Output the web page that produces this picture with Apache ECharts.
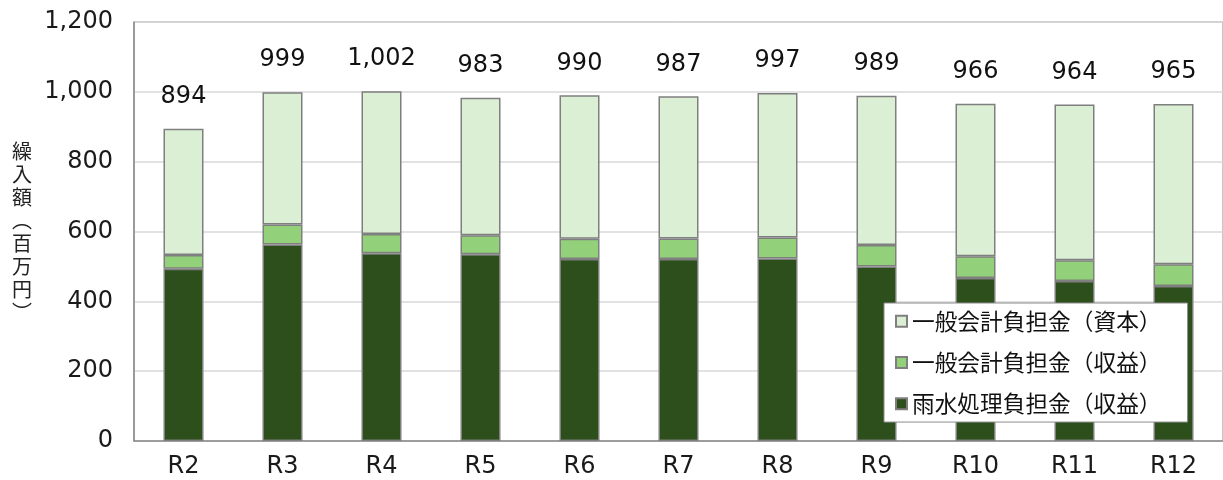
<!DOCTYPE html>
<html><head><meta charset="utf-8">
<script src="https://cdn.jsdelivr.net/npm/echarts@6/dist/echarts.min.js"></script>
<style>html,body{margin:0;padding:0;background:#fff}#c{width:1223px;height:480px}</style>
</head><body><div id="c"></div>
<script>
const categories = ['R2','R3','R4','R5','R6','R7','R8','R9','R10','R11','R12'];
const rainwater = [493,563,538,535,521,521,523,500,467,458,444];
const generalRevenue = [40,57,55,54,58,59,60,61,62,60,62];
const generalCapital = [361,379,409,394,411,407,414,428,437,446,459];
const totals = [894,999,1002,983,990,987,997,989,966,964,965];
const yTicks = [0,200,400,600,800,1000,1200];
const names = ['雨水処理負担金（収益）','一般会計負担金（収益）','一般会計負担金（資本）'];

const font = "'DejaVu Sans', sans-serif";
const jfont = "'Noto Sans CJK JP', sans-serif";
const border = {borderColor:'#7f7f7f', borderWidth:1.5};
const chart = echarts.init(document.getElementById('c'));
chart.setOption({
  animation:false,
  grid:{left:134, right:-11, top:22, bottom:39, show:true, borderColor:'#8c8c8c', borderWidth:1},
  legend:{
    orient:'vertical', left:884, top:303,
    data:[names[2],names[1],names[0]],
    backgroundColor:'#fff', borderColor:'#8c8c8c', borderWidth:1,
    padding:[7,26,7,11], itemGap:18.5, itemWidth:11, itemHeight:11,
    icon:'rect',
    textStyle:{fontSize:22.7, color:'#111', fontFamily:jfont}
  },
  xAxis:{type:'category', data:categories,
    axisLine:{lineStyle:{color:'#8c8c8c', width:1.5}}, axisTick:{show:false},
    axisLabel:{fontSize:24, color:'#1a1a1a', margin:14, fontFamily:font}},
  yAxis:{type:'value', min:0, max:1200, interval:200,
    name:'繰\n入\n額\n︵\n百\n万\n円\n︶', nameLocation:'middle', nameRotate:0, nameGap:102,
    nameTextStyle:{fontSize:20, color:'#222', lineHeight:23, fontFamily:jfont},
    axisLine:{show:true, lineStyle:{color:'#8c8c8c', width:1.5}}, axisTick:{show:false},
    splitLine:{lineStyle:{color:'#d9d9d9', width:1.5}},
    axisLabel:{fontSize:24, color:'#1a1a1a', margin:21, fontFamily:font,
      formatter:v => yTicks.includes(v) ? v.toLocaleString('en-US') : ''}},
  series:[
    {name:names[0], type:'bar', stack:'a', barWidth:40, data:rainwater,
     itemStyle:Object.assign({color:'#2d4f1c'}, border)},
    {name:names[1], type:'bar', stack:'a', barWidth:40, data:generalRevenue,
     itemStyle:Object.assign({color:'#92d07a'}, border)},
    {name:names[2], type:'bar', stack:'a', barWidth:40, data:generalCapital,
     itemStyle:Object.assign({color:'#daefd4'}, border),
     label:{show:true, position:'top', distance:20, fontSize:24, color:'#111', fontFamily:font,
       formatter:p => totals[p.dataIndex].toLocaleString('en-US')}}
  ]
});
</script></body></html>
